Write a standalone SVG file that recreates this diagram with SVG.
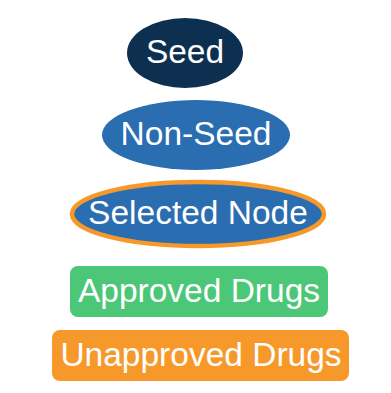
<svg xmlns="http://www.w3.org/2000/svg" width="391" height="393" viewBox="0 0 391 393">
  <style>
    .lbl { font-family: "Liberation Sans", Arial, sans-serif; font-size: 33.5px; fill: #ffffff; text-anchor: middle; dominant-baseline: central; }
  </style>
  <rect width="391" height="393" fill="#ffffff"/>
  <g id="seed">
    <ellipse cx="185" cy="53" rx="58" ry="35" fill="#0e3050"/>
    <text class="lbl" x="185" y="51">Seed</text>
  </g>
  <g id="non-seed">
    <ellipse cx="196" cy="135" rx="94" ry="35" fill="#2a6db0"/>
    <text class="lbl" x="196" y="133">Non-Seed</text>
  </g>
  <g id="selected-node">
    <ellipse cx="198" cy="214" rx="126" ry="32" fill="#2a6db0" stroke="#f7992a" stroke-width="4.5"/>
    <text class="lbl" x="198" y="212">Selected Node</text>
  </g>
  <g id="approved-drugs">
    <rect x="70" y="266" width="258" height="51" rx="8" fill="#4bc777"/>
    <text class="lbl" x="199" y="290">Approved Drugs</text>
  </g>
  <g id="unapproved-drugs">
    <rect x="52" y="330" width="297" height="51" rx="8" fill="#f7992a"/>
    <text class="lbl" x="201" y="354">Unapproved Drugs</text>
  </g>
  <g id="connectors"/>
</svg>
